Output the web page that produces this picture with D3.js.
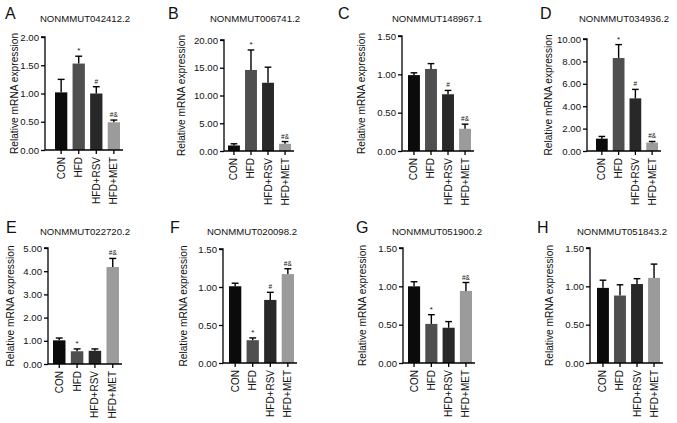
<!DOCTYPE html>
<html>
<head>
<meta charset="utf-8">
<script src="https://cdn.jsdelivr.net/npm/d3@7/dist/d3.min.js"></script>
<style>
  html, body { margin: 0; padding: 0; background: #fff; }
  svg { display: block; font-family: "Liberation Sans", Arial, Helvetica, sans-serif; }
</style>
</head>
<body>
<svg id="chart" width="677" height="423"></svg>
<script>
// ---------- DATA ----------
const groups = ["CON", "HFD", "HFD+RSV", "HFD+MET"];
const panelLetters = ["A", "B", "C", "D", "E", "F", "G", "H"];
const geneNames = ["NONMMUT042412.2", "NONMMUT006741.2", "NONMMUT148967.1", "NONMMUT034936.2",
                   "NONMMUT022720.2", "NONMMUT020098.2", "NONMMUT051900.2", "NONMMUT051843.2"];
const yLabel = "Relative mRNA expression";

const meansA = [1.02, 1.53, 1.00, 0.49];
const errA   = [0.23, 0.13, 0.12, 0.04];
const marksA = ["", "*", "#", "#&"];
const ticksA = [0, 0.5, 1.0, 1.5, 2.0];

const meansB = [1.0, 14.6, 12.3, 1.3];
const errB   = [0.3, 3.6, 2.8, 0.4];
const marksB = ["", "*", "", "#&"];
const ticksB = [0, 5, 10, 15, 20];

const meansC = [0.99, 1.07, 0.74, 0.29];
const errC   = [0.03, 0.07, 0.05, 0.06];
const marksC = ["", "", "#", "#&"];
const ticksC = [0, 0.5, 1.0, 1.5];

const meansD = [1.1, 8.3, 4.7, 0.75];
const errD   = [0.2, 1.2, 0.8, 0.1];
const marksD = ["", "*", "#", "#&"];
const ticksD = [0, 2, 4, 6, 8, 10];

const meansE = [1.02, 0.55, 0.57, 4.18];
const errE   = [0.10, 0.10, 0.08, 0.37];
const marksE = ["", "*", "", "#&"];
const ticksE = [0, 1, 2, 3, 4, 5];

const meansF = [1.01, 0.30, 0.83, 1.17];
const errF   = [0.04, 0.03, 0.10, 0.07];
const marksF = ["", "*", "#", "#&"];
const ticksF = [0, 0.5, 1.0, 1.5];

const meansG = [1.00, 0.51, 0.46, 0.94];
const errG   = [0.06, 0.12, 0.08, 0.11];
const marksG = ["", "*", "", "#&"];
const ticksG = [0, 0.5, 1.0, 1.5];

const meansH = [0.98, 0.88, 1.03, 1.11];
const errH   = [0.10, 0.14, 0.07, 0.18];
const marksH = ["", "", "", ""];
const ticksH = [0, 0.5, 1.0, 1.5];

const allMeans = [meansA, meansB, meansC, meansD, meansE, meansF, meansG, meansH];
const allErrs  = [errA, errB, errC, errD, errE, errF, errG, errH];
const allMarks = [marksA, marksB, marksC, marksD, marksE, marksF, marksG, marksH];
const allTicks = [ticksA, ticksB, ticksC, ticksD, ticksE, ticksF, ticksG, ticksH];

// ---------- LAYOUT (pixel geometry per panel) ----------
const layout = [
  {axisX: 45,  b0: 55,  b1: 120, yTop: 37,  yZero: 150, letterX: 5,   titleX: 85,  labX: 14,  row: 0},
  {axisX: 224, b0: 228, b1: 291, yTop: 40,  yZero: 151, letterX: 168, titleX: 255, labX: 181, row: 0},
  {axisX: 402, b0: 408, b1: 471, yTop: 36,  yZero: 151, letterX: 338, titleX: 437, labX: 361, row: 0},
  {axisX: 587, b0: 596, b1: 658, yTop: 39,  yZero: 151, letterX: 540, titleX: 624, labX: 548, row: 0},
  {axisX: 48,  b0: 53,  b1: 119, yTop: 248, yZero: 364, letterX: 6,   titleX: 85,  labX: 10,  row: 1},
  {axisX: 223, b0: 229, b1: 294, yTop: 249, yZero: 363, letterX: 170, titleX: 252, labX: 183, row: 1},
  {axisX: 403, b0: 408, b1: 472, yTop: 248, yZero: 363, letterX: 356, titleX: 437, labX: 362, row: 1},
  {axisX: 590, b0: 597, b1: 660, yTop: 248, yZero: 363, letterX: 537, titleX: 622, labX: 549, row: 1}
];
const rowLetterY = [19, 233];
const rowTitleY = [22, 235];
const barColors = ["#0b0b0b", "#4f4f4f", "#282828", "#9b9b9b"];
const font = "'Liberation Sans', Arial, Helvetica, sans-serif";

const svg = d3.select("#chart");

layout.forEach((L, i) => {
  const means = allMeans[i], errs = allErrs[i], marks = allMarks[i], ticks = allTicks[i];
  const g = svg.append("g");

  const x = d3.scaleBand().domain(groups).range([L.b0, L.b1]).paddingInner(0.3).paddingOuter(0);
  const y = d3.scaleLinear().domain([0, d3.max(ticks)]).range([L.yZero, L.yTop]);

  g.selectAll("rect.bar").data(groups).enter().append("rect")
    .attr("x", d => x(d))
    .attr("y", (d, j) => y(means[j]))
    .attr("width", x.bandwidth())
    .attr("height", (d, j) => y(0) - y(means[j]))
    .attr("fill", (d, j) => barColors[j]);

  const cap = x.bandwidth() * 0.28;
  groups.forEach((d, j) => {
    const cx = x(d) + x.bandwidth() / 2;
    const top = y(means[j] + errs[j]);
    g.append("line").attr("x1", cx).attr("x2", cx)
      .attr("y1", y(means[j])).attr("y2", top)
      .attr("stroke", "#000").attr("stroke-width", 1.4);
    g.append("line").attr("x1", cx - cap).attr("x2", cx + cap)
      .attr("y1", top).attr("y2", top)
      .attr("stroke", "#000").attr("stroke-width", 1.4);
    if (marks[j]) {
      g.append("text").attr("x", cx).attr("y", top - 3)
        .attr("text-anchor", "middle")
        .attr("font-size", marks[j] === "*" ? 8 : 6.5)
        .attr("font-family", font)
        .attr("fill", "#111")
        .text(marks[j]);
    }
  });

  const yAxis = d3.axisLeft(y).tickValues(ticks).tickFormat(d3.format(".2f")).tickSize(4).tickPadding(2);
  const ya = g.append("g").attr("transform", `translate(${L.axisX},0)`).call(yAxis);
  ya.select(".domain").attr("stroke", "#000").attr("stroke-width", 1.3)
    .attr("d", `M-4,${L.yTop}H0V${L.yZero}`);
  ya.selectAll(".tick line").attr("stroke", "#000").attr("stroke-width", 1.3);
  ya.selectAll(".tick text").attr("font-size", 9.6).attr("font-family", font).attr("fill", "#111");

  const xAxis = d3.axisBottom(x).tickSize(4).tickSizeOuter(0).tickPadding(3);
  const xa = g.append("g").attr("transform", `translate(0,${L.yZero})`).call(xAxis);
  xa.select(".domain").attr("stroke", "#000").attr("stroke-width", 1.3)
    .attr("d", `M${L.axisX},0H${L.b1 + 3}`);
  xa.selectAll(".tick line").attr("stroke", "#000").attr("stroke-width", 1.3);
  xa.selectAll(".tick text")
    .attr("font-size", 10).attr("font-family", font).attr("fill", "#111")
    .attr("text-anchor", "end")
    .attr("transform", "rotate(-90)")
    .attr("x", -7).attr("y", 0).attr("dy", "0.35em");

  g.append("text")
    .attr("transform", `translate(${L.labX},${(L.yTop + L.yZero) / 2}) rotate(-90)`)
    .attr("text-anchor", "middle").attr("dy", "0.35em")
    .attr("font-size", 10.2).attr("font-family", font).attr("fill", "#111")
    .text(yLabel);

  g.append("text").attr("x", L.titleX).attr("y", rowTitleY[L.row])
    .attr("text-anchor", "middle").attr("font-size", 9.6).attr("font-family", font).attr("fill", "#111")
    .text(geneNames[i]);

  g.append("text").attr("x", L.letterX).attr("y", rowLetterY[L.row])
    .attr("font-size", 16).attr("font-family", font).attr("fill", "#111")
    .text(panelLetters[i]);
});
</script>
</body>
</html>
